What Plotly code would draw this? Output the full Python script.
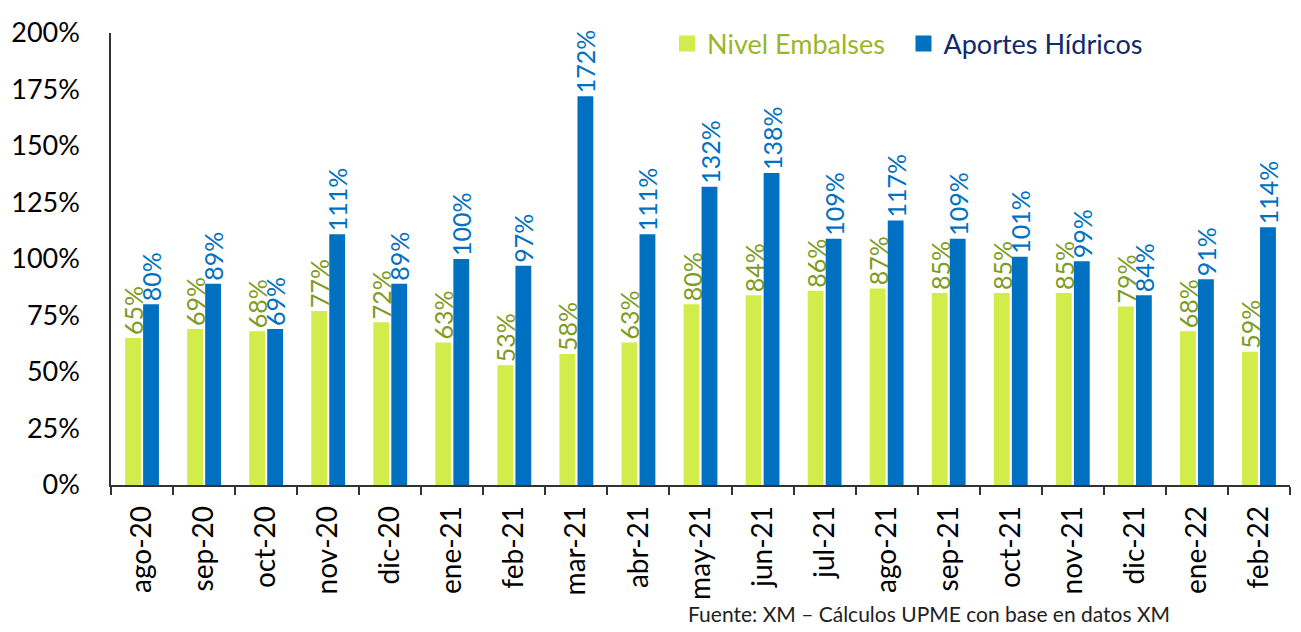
import plotly.graph_objects as go

months = ["ago-20", "sep-20", "oct-20", "nov-20", "dic-20", "ene-21", "feb-21", "mar-21",
          "abr-21", "may-21", "jun-21", "jul-21", "ago-21", "sep-21", "oct-21", "nov-21",
          "dic-21", "ene-22", "feb-22"]
nivel_embalses = [0.65, 0.69, 0.68, 0.77, 0.72, 0.63, 0.53, 0.58, 0.63, 0.80, 0.84, 0.86,
                  0.87, 0.85, 0.85, 0.85, 0.79, 0.68, 0.59]
aportes_hidricos = [0.80, 0.89, 0.69, 1.11, 0.89, 1.00, 0.97, 1.72, 1.11, 1.32, 1.38, 1.09,
                    1.17, 1.09, 1.01, 0.99, 0.84, 0.91, 1.14]
series_names = ["Nivel Embalses", "Aportes Hídricos"]
source_text = "Fuente: XM – Cálculos UPME con base en datos XM"

FONT = "Lato"
GREEN = "#D2EC4B"
GREEN_TXT = "#7E9C1F"
GREEN_LEG = "#9AB62A"
BLUE = "#0070C0"
NAVY = "#102A6B"

fig = go.Figure()
fig.add_trace(go.Bar(
    x=months, y=nivel_embalses, name=series_names[0], showlegend=False,
    marker=dict(color=GREEN, line=dict(width=0)),
    text=[f"{v*100:.0f}%" for v in nivel_embalses],
    textposition="outside", textangle=-90,
    textfont=dict(family=FONT, size=25, color=GREEN_TXT),
    cliponaxis=False,
))
fig.add_trace(go.Bar(
    x=months, y=aportes_hidricos, name=series_names[1], showlegend=False,
    marker=dict(color=BLUE, line=dict(width=0)),
    text=[f"{v*100:.0f}%" for v in aportes_hidricos],
    textposition="outside", textangle=-90,
    textfont=dict(family=FONT, size=25, color=BLUE),
    cliponaxis=False,
))
# legend entries (square markers)
legend_suffix = ["&#8194;", ""]
for nm, col, tcol, sfx in zip(series_names, [GREEN, BLUE], [GREEN_LEG, NAVY], legend_suffix):
    fig.add_trace(go.Scatter(
        x=[None], y=[None], mode="markers",
        name=f"<span style='color:{tcol}'>{nm}</span>{sfx}",
        marker=dict(symbol="square", size=16, color=col), showlegend=True,
    ))

fig.update_layout(
    width=1293, height=624,
    margin=dict(l=103, r=11, t=11, b=147),
    paper_bgcolor="white", plot_bgcolor="white",
    barmode="group", bargap=0.42, bargroupgap=0.12,
    uniformtext=dict(minsize=25, mode="show"),
    font=dict(family=FONT, color="black"),
    legend=dict(
        orientation="h",
        x=0.4716, y=0.976, xanchor="left", yanchor="middle",
        bgcolor="rgba(0,0,0,0)", font=dict(family=FONT, size=27),
        itemsizing="trace",
        traceorder="normal",
    ),
    showlegend=True,
)
fig.update_xaxes(
    type="category", tickangle=-90, tickson="boundaries",
    ticks="outside", ticklen=8, tickcolor="#333", tickwidth=1.5,
    showline=True, linecolor="#333", linewidth=1.5,
    tickfont=dict(family=FONT, size=28, color="black"),
    ticklabelstandoff=8, automargin=False,
    showgrid=False,
)
fig.update_yaxes(
    range=[0, 2], dtick=0.25, tickformat=".0%",
    showline=True, linecolor="#333", linewidth=1.5,
    ticks="", showgrid=False, zeroline=False,
    tickfont=dict(family=FONT, size=27, color="black"),
    ticklabelstandoff=24, automargin=False,
)

fig.add_annotation(
    text=source_text,
    xref="paper", yref="paper", x=0.488, y=-0.285, xanchor="left", yanchor="middle",
    showarrow=False, font=dict(family=FONT, size=21, color="#222"),
)

fig.write_html("out.html")
